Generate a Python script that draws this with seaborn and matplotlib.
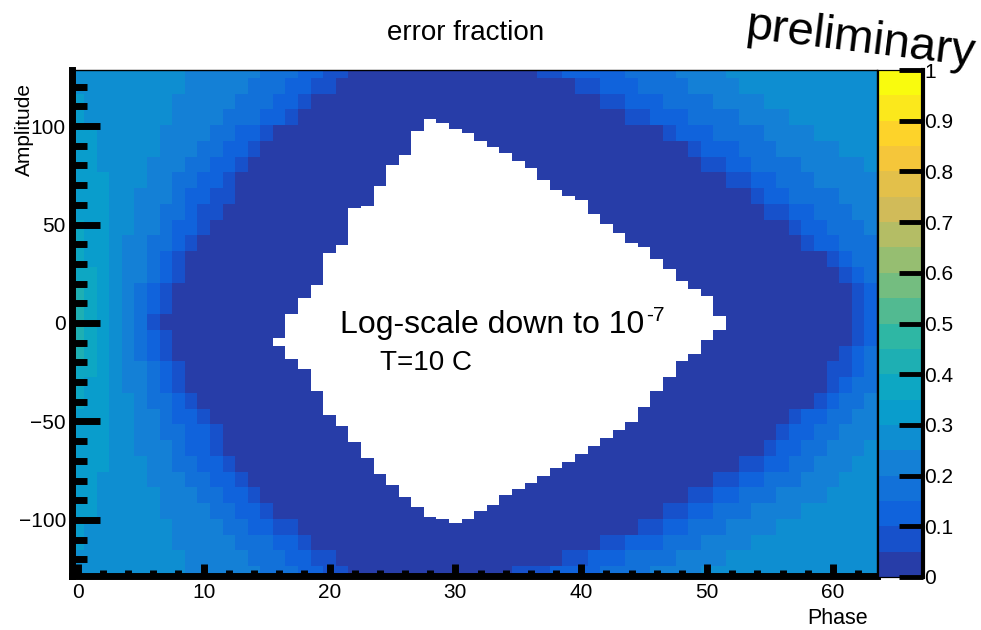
import numpy as np
import pandas as pd
import matplotlib
matplotlib.use("Agg")
import matplotlib.pyplot as plt
import seaborn as sns
from matplotlib.colors import ListedColormap

# ---------------- data ----------------
phase_bins = list(range(64))                 # x bins (Phase)
amp_bins = list(range(128, -129, -1))        # y bins (Amplitude), top to bottom
sample_amp = list(range(128, -129, -8))      # rows at which band edges were read

# left side: first Phase column where error fraction drops below 0.05*k
left_b1 = [22,21,19,18,16,15,14,13,13,12,11,10,9,9,8,8,7,8,8,9,9,10,11,12,12,13,14,15,16,18,19,21,22]
left_b2 = [20,19,18,17,15,14,13,12,11,10,10,9,8,8,7,7,6,7,7,8,8,9,10,11,11,12,13,14,15,16,18,19,20]
left_b3 = [18,17,16,15,13,12,11,10,9,9,8,8,7,7,6,6,6,6,6,7,7,8,8,9,9,10,11,12,13,14,16,17,18]
left_b4 = [15,14,13,12,11,10,9,8,8,7,7,6,6,6,5,5,5,5,5,6,6,6,7,7,8,8,9,10,11,12,13,14,15]
left_b5 = [9,9,8,8,7,7,6,6,5,5,5,4,4,4,4,4,4,4,4,4,4,5,5,5,5,6,6,7,7,8,8,9,9]
left_b6 = [0,0,1,1,2,2,2,3,3,3,3,3,3,3,3,3,3,3,3,3,3,3,3,3,3,3,2,2,2,1,1,0,0]
left_b7 = [0,0,0,0,0,0,0,0,0,0,1,1,1,2,2,2,2,2,2,2,1,1,0,0,0,0,0,0,0,0,0,0,0]
left_b8 = [0,0,0,0,0,0,0,0,0,0,0,0,0,0,1,1,1,1,1,0,0,0,0,0,0,0,0,0,0,0,0,0,0]

# right side: first Phase column from which error fraction is >= 0.05*k
right_b1 = [37,40,42,44,47,49,50,52,54,55,57,58,60,61,62,62,62,62,61,60,60,59,57,56,55,53,51,49,47,45,42,39,35]
right_b2 = [39,42,44,46,48,50,52,54,55,57,58,59,61,62,63,63,63,63,62,62,61,60,58,57,56,55,53,51,49,47,44,41,38]
right_b3 = [44,45,47,49,51,53,54,56,57,59,60,61,62,63,64,64,64,64,63,63,62,61,60,59,58,57,55,53,51,49,47,44,42]
right_b4 = [48,49,51,53,55,56,58,59,61,62,63,64,64,64,64,64,64,64,64,64,64,63,62,61,60,59,58,56,54,52,50,48,46]
right_b5 = [52,53,55,57,59,61,63,64,64,64,64,64,64,64,64,64,64,64,64,64,64,64,64,64,63,62,61,60,58,56,54,52,50]

# white (error-free) region: per Phase column, top and bottom Amplitude
white_cols = list(range(16, 52))
white_top = [-8,4,12,19,35,39,58,59,69,80,85,97,103,101,98,96,92,89,86,82,78,72,67,64,62,55,50,45,40,38,32,27,21,17,13,3]
white_bottom = [-11,-18,-23,-34,-46,-52,-60,-68,-76,-82,-88,-93,-98,-99,-101,-99,-95,-92,-87,-84,-81,-77,-73,-70,-66,-62,-58,-54,-50,-42,-34,-27,-19,-15,-8,-3]

x_tick_vals = [0, 10, 20, 30, 40, 50, 60]
y_tick_vals = [100, 50, 0, -50, -100]
cbar_tick_vals = [0, 0.1, 0.2, 0.3, 0.4, 0.5, 0.6, 0.7, 0.8, 0.9, 1]
cbar_tick_labels = ["0", "0.1", "0.2", "0.3", "0.4", "0.5", "0.6", "0.7", "0.8", "0.9", "1"]

# ---------------- build the histogram ----------------
ph = np.array(phase_bins)
amp = np.array(amp_bins)
rows = (128 - amp + 4) // 8
L = np.array([left_b1, left_b2, left_b3, left_b4, left_b5, left_b6, left_b7, left_b8])
R = np.array([right_b1, right_b2, right_b3, right_b4, right_b5])
left_level = (ph[None, None, :] < L[:, rows][:, :, None]).sum(0)
right_level = (ph[None, None, :] >= R[:, rows][:, :, None]).sum(0)
level = np.maximum(left_level, right_level)
frac = (level + 0.5) * 0.05
for c, t, b in zip(white_cols, white_top, white_bottom):
    frac[(amp >= b) & (amp <= t), c] = np.nan
df = pd.DataFrame(frac, index=amp_bins, columns=phase_bins)

# ROOT kBird palette, 20 contour levels
stops = np.array([0.0, 0.125, 0.25, 0.375, 0.5, 0.625, 0.75, 0.875, 1.0])
red = [0.2082, 0.0592, 0.0780, 0.0232, 0.1802, 0.5301, 0.8186, 0.9956, 0.9764]
green = [0.1664, 0.3599, 0.5041, 0.6419, 0.7178, 0.7492, 0.7328, 0.7862, 0.9832]
blue = [0.5293, 0.8684, 0.8385, 0.7914, 0.6425, 0.4662, 0.3499, 0.1968, 0.0539]
tpos = np.array([int((k + 0.99) * 255 / 20) for k in range(20)]) / 254.0
cols = np.stack([np.interp(tpos, stops, red), np.interp(tpos, stops, green),
                 np.interp(tpos, stops, blue)], axis=1)
cmap = ListedColormap(cols)

# ---------------- figure ----------------
sns.set_theme(style="white")
plt.rcParams["font.family"] = ["Liberation Sans", "DejaVu Sans"]
plt.rcParams["text.color"] = "black"
plt.rcParams["axes.axisbelow"] = False

W, H = 981, 630
fig = plt.figure(figsize=(W / 100, H / 100), dpi=100)
ax = fig.add_axes([71.5 / W, 1 - 576 / H, (877 - 71.5) / W, (576 - 70) / H])
cax = fig.add_axes([878 / W, 1 - 577 / H, 45 / W, (577 - 70) / H])

sns.heatmap(df, cmap=cmap, vmin=0, vmax=1, ax=ax, cbar_ax=cax,
            xticklabels=False, yticklabels=False)
ax.set_axisbelow(False)

ax.set_facecolor("white")
for side, s in ax.spines.items():
    s.set_visible(True)
    s.set_color("black")
    s.set_linewidth(5 if side in ("left", "bottom") else 1)
    s.set_zorder(5)

ax.set_xticks([v + 0.5 for v in x_tick_vals])
ax.set_xticklabels([str(v) for v in x_tick_vals])
ax.set_xticks([v + 0.5 for v in range(0, 64, 2) if v % 10 != 0], minor=True)
ax.set_yticks([128 - v + 0.5 for v in y_tick_vals])
ax.set_yticklabels(["%d" % v if v >= 0 else "\u2212%d" % (-v) for v in y_tick_vals])
ax.set_yticks([128 - v + 0.5 for v in range(-120, 130, 10) if v % 50 != 0], minor=True)
ax.set_xlabel("")
ax.set_ylabel("")

ax.tick_params(axis="x", which="major", direction="in", length=9, width=5,
               bottom=True, top=False, color="black", labelsize=15, pad=5,
               labelcolor="black")
ax.tick_params(axis="x", which="minor", direction="in", length=4.5, width=5,
               bottom=True, top=False, color="black")
ax.tick_params(axis="y", which="major", direction="in", length=20, width=5,
               left=True, right=False, color="black", labelsize=15, pad=4,
               labelcolor="black", labelrotation=0)
ax.tick_params(axis="y", which="minor", direction="in", length=11, width=5,
               left=True, right=False, color="black")

cb = ax.collections[0].colorbar
cb.outline.set_visible(False)
cax.set_yticks(cbar_tick_vals)
cax.set_yticklabels(cbar_tick_labels)
cax.yaxis.set_ticks_position("right")
cax.set_axisbelow(False)
cax.tick_params(axis="y", direction="in", length=17, width=3.5, color="black",
                labelsize=15, pad=1, labelcolor="black")
for side, s in cax.spines.items():
    s.set_visible(True)
    s.set_color("black")
    s.set_linewidth(3 if side == "right" else 0.8)

# texts
fig.text(466 / W, 1 - 33 / H, "error fraction", ha="center", va="center",
         fontsize=20, color="black")
fig.text(24 / W, 1 - 83 / H, "Amplitude", rotation=90, ha="center", va="top",
         fontsize=15, color="black")
fig.text(868 / W, 1 - 618 / H, "Phase", ha="right", va="center", fontsize=15.5,
         color="black")
t1 = fig.text(340 / W, 1 - 333 / H, "Log-scale down to 10", ha="left",
              va="baseline", fontsize=23, color="black")
fig.canvas.draw()
bb = t1.get_window_extent()
fig.text((bb.x1 + 2) / W, 1 - 321 / H, "-7", ha="left", va="baseline",
         fontsize=15, color="black")
fig.text(380 / W, 1 - 370 / H, "T=10 C", ha="left", va="baseline", fontsize=20,
         color="black")
fig.text(860 / W, 1 - 40 / H, "preliminary", ha="center", va="center",
         fontsize=34, rotation=-7, color="black")

fig.savefig("out.png", dpi=100)
